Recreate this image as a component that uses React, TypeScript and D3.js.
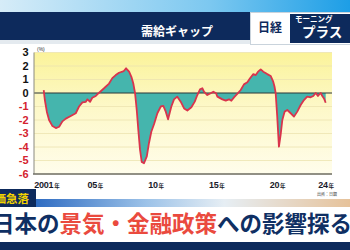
import React from "react";
import * as d3 from "d3";

// Traced points of the output gap line (decimal year, %)
const dates = [
  2001.0, 2001.09, 2001.26, 2001.44, 2001.72, 2002.0, 2002.27, 2002.54, 2002.82, 2003.23,
  2003.64, 2003.91, 2004.19, 2004.47, 2004.6, 2004.82, 2005.0, 2005.29, 2005.56, 2005.97,
  2006.38, 2006.65, 2006.93, 2007.2, 2007.48, 2007.62, 2007.78, 2008.03, 2008.22, 2008.38,
  2008.52, 2008.66, 2008.79, 2008.93, 2009.07, 2009.26, 2009.49, 2009.67, 2009.86, 2010.09,
  2010.36, 2010.64, 2010.85, 2011.05, 2011.24, 2011.51, 2011.73, 2012.0, 2012.28, 2012.56,
  2012.83, 2013.16, 2013.44, 2013.65, 2013.87, 2014.06, 2014.2, 2014.47, 2014.75, 2014.97,
  2015.19, 2015.3, 2015.71, 2015.99, 2016.26, 2016.45, 2016.67, 2016.94, 2017.22, 2017.49,
  2017.77, 2017.99, 2018.26, 2018.46, 2018.65, 2018.87, 2019.08, 2019.41, 2019.69, 2019.9,
  2020.0, 2020.1, 2020.23, 2020.37, 2020.51, 2020.65, 2020.84, 2021.06, 2021.34, 2021.61,
  2021.88, 2022.16, 2022.43, 2022.7, 2022.98, 2023.2, 2023.4, 2023.58, 2023.81, 2023.94,
  2024.08, 2024.22,
];
const gapValues = [
  0.22, -0.5, -1.4, -2.0, -2.45, -2.6, -2.5, -2.1, -1.9, -1.7,
  -1.5, -1.0, -0.7, -0.65, -0.47, -0.65, -0.35, -0.22, 0.02, 0.35,
  0.7, 1.1, 1.33, 1.5, 1.58, 1.65, 1.83, 1.58, 1.2, 0.7,
  0.0, -1.26, -2.74, -4.2, -5.1, -5.2, -4.7, -3.7, -2.87, -2.3,
  -1.5, -1.0, -0.96, -1.38, -1.95, -1.0, -0.47, -0.27, -0.64, -1.14,
  -1.3, -1.06, -0.64, -0.15, 0.27, 0.35, 0.1, -0.15, -0.02, 0.1,
  -0.02, -0.27, -0.47, -0.57, -0.47, -0.57, -0.32, -0.07, 0.22, 0.64,
  0.79, 1.09, 1.4, 1.33, 1.58, 1.75, 1.58, 1.4, 1.26, 0.84,
  0.5, 0.0, -1.75, -3.97, -3.1, -2.0, -1.38, -1.26, -1.5, -1.75,
  -1.38, -0.89, -0.52, -0.27, -0.32, -0.22, 0.0, -0.22, 0.0, -0.22,
  -0.4, -0.72,
];

const yTicks = [3, 2, 1, 0, -1, -2, -3, -4, -5, -6];
const xTicks = [2001, 2005, 2010, 2015, 2020, 2024];
const xTickLabels = ["2001", "05", "10", "15", "20", "24"];

const titleText = "需給ギャップ";
const captionParts = [
  { t: "日本の", c: "#0f2f63" },
  { t: "景気・金融政策", c: "#ea4a3e" },
  { t: "への影響探る", c: "#0f2f63" },
];

const JP = "'Noto Sans CJK JP', 'Noto Sans', sans-serif";
const NUM = "'Liberation Sans', Arial, sans-serif";
const NAVY = "#0d2a5c";

export default function App() {
  const x = d3.scaleLinear().domain([2000.2, 2024.74]).range([34, 332]);
  const y = d3.scaleLinear().domain([-6, 3]).range([174, 52.5]);
  const pts = dates.map((d, i) => [d, gapValues[i]] as [number, number]);
  const area = d3
    .area<[number, number]>()
    .x((d) => x(d[0]))
    .y0(y(0))
    .y1((d) => y(d[1]));
  const line = d3
    .line<[number, number]>()
    .x((d) => x(d[0]))
    .y((d) => y(d[1]));

  return (
    <svg
      width={350}
      height={250}
      style={{ position: "fixed", left: 0, top: 0, display: "block" }}
    >
      <defs>
        <linearGradient id="topg" x1="0" x2="1" y1="0" y2="0">
          <stop offset="0" stopColor="#d6ecf8" />
          <stop offset="0.6" stopColor="#7cc8f0" />
          <stop offset="1" stopColor="#1d9ee6" />
        </linearGradient>
        <linearGradient id="plotg" x1="0" x2="0" y1="0" y2="1">
          <stop offset="0" stopColor="#fbf39a" />
          <stop offset="0.45" stopColor="#fdf8c8" />
          <stop offset="1" stopColor="#fffdeb" />
        </linearGradient>
        <linearGradient id="stripg" x1="0" x2="1" y1="0" y2="0">
          <stop offset="0" stopColor="#2f6cc2" />
          <stop offset="0.35" stopColor="#9cc2e8" />
          <stop offset="0.6" stopColor="#e6eef4" />
          <stop offset="1" stopColor="#e6c29a" />
        </linearGradient>
      </defs>

      {/* page background */}
      <rect x={0} y={0} width={350} height={250} fill="#ffffff" />

      {/* header */}
      <rect x={0} y={0} width={350} height={13} fill="url(#topg)" />
      <rect x={0} y={12} width={350} height={28} fill={NAVY} />
      <rect x={0} y={40} width={250} height={4} fill="#e4eaef" />
      <text
        x={177}
        y={36}
        textAnchor="middle"
        fill="#ffffff"
        fontFamily={JP}
        fontWeight={700}
        fontSize={12}
      >
        {titleText}
      </text>
      {/* badge */}
      <rect x={250.5} y={12.5} width={100} height={32} fill="#ffffff" stroke="#c9d3dc" />
      <rect x={290} y={14} width={60} height={29} fill={NAVY} />
      <text x={270} y={32} textAnchor="middle" fill={NAVY} fontFamily={JP} fontWeight={700} fontSize={12}>
        日経
      </text>
      <text x={295} y={21.5} fill="#ffffff" fontFamily={JP} fontWeight={700} fontSize={7.5}>
        モーニング
      </text>
      <text x={302} y={37} fill="#ffffff" fontFamily={JP} fontWeight={700} fontSize={13.5}>
        プラス
      </text>

      {/* plot background */}
      <rect x={x(2000.2)} y={y(3)} width={x(2024.74) - x(2000.2)} height={y(-6) - y(3)} fill="url(#plotg)" />
      {yTicks.map((t) => (
        <line
          key={"g" + t}
          x1={x(2000.2)}
          x2={x(2024.74)}
          y1={y(t)}
          y2={y(t)}
          stroke="#ece3b0"
          strokeWidth={0.8}
        />
      ))}

      {/* area + line */}
      <path d={area(pts) || ""} fill="#45b5ad" />
      <line x1={x(2000.2)} x2={x(2024.74)} y1={y(0)} y2={y(0)} stroke="#2f3a3a" strokeWidth={1} />
      <path d={line(pts) || ""} fill="none" stroke="#d9344c" strokeWidth={1.8} strokeLinejoin="round" />

      {/* axes */}
      <line x1={x(2000.2)} x2={x(2000.2)} y1={y(3)} y2={y(-6)} stroke="#8a8a80" strokeWidth={1} />
      <line x1={x(2000.2) - 1} x2={x(2024.74)} y1={y(-6)} y2={y(-6)} stroke="#6f6f68" strokeWidth={1.5} />

      {yTicks.map((t) => (
        <text
          key={"y" + t}
          x={28.5}
          y={y(t)}
          dy="0.36em"
          textAnchor="end"
          fill={t < 0 ? "#d4222e" : "#111111"}
          fontFamily={NUM}
          fontWeight={700}
          fontSize={11}
        >
          {t}
        </text>
      ))}
      <text x={37} y={51} fill="#333" fontFamily={NUM} fontSize={5}>
        (%)
      </text>

      {xTicks.map((t, i) => {
        const lab = xTickLabels[i];
        const w = lab.length * 5.0;
        return (
          <g key={"x" + t}>
            <text
              x={x(t)}
              y={187.5}
              textAnchor="middle"
              fill="#1a1a2a"
              fontFamily={NUM}
              fontWeight={700}
              fontSize={9}
              letterSpacing={-0.3}
            >
              {lab}
            </text>
            <text x={x(t) + w / 2 + 0.5} y={187.5} fill="#1a1a2a" fontFamily={JP} fontWeight={700} fontSize={5.5}>
              年
            </text>
          </g>
        );
      })}
      <text x={317} y={196} fill="#333" fontFamily={JP} fontSize={4}>
        出所：日銀
      </text>

      {/* bottom banner */}
      <rect x={36} y={199} width={314} height={8} fill="url(#stripg)" />
      <rect x={0} y={189} width={36} height={18} fill={NAVY} />
      <text x={29} y={203} textAnchor="end" fill="#f3d300" fontFamily={JP} fontWeight={700} fontSize={11.5}>
        株価急落
      </text>
      <rect x={0} y={207} width={350} height={35} fill="#ffffff" />
      <text x={-8} y={232} fontFamily={JP} fontWeight={700} fontSize={22.5}>
        {captionParts.map((p, i) => (
          <tspan key={i} fill={p.c}>
            {p.t}
          </tspan>
        ))}
      </text>
      <rect x={0} y={242} width={350} height={8} fill={NAVY} />
    </svg>
  );
}
